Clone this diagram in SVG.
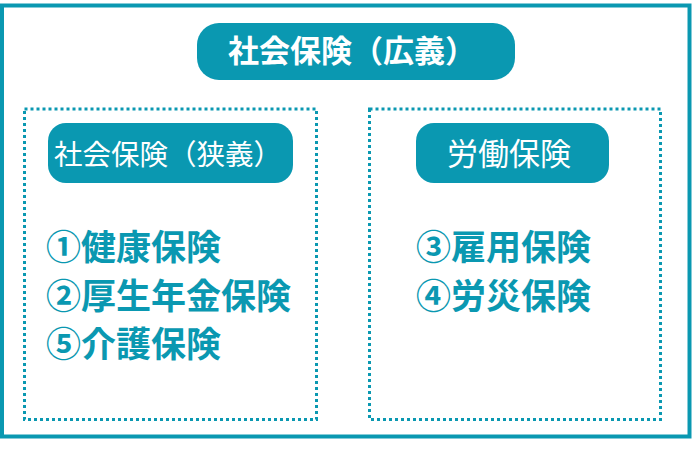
<svg xmlns="http://www.w3.org/2000/svg" width="695" height="460" viewBox="0 0 695 460">
<style>
.pill{fill:#0a98b1}
.pt{fill:#fff;font-family:"Noto Sans CJK JP","Noto Sans",sans-serif;text-anchor:middle}
.dot{fill:none;stroke:#0a98b1;stroke-width:3;stroke-dasharray:3 3}
.item{fill:#0a98b1;font-family:"Noto Sans CJK JP","Noto Sans",sans-serif;font-weight:700;font-size:35px}
</style>
<rect width="695" height="460" fill="#fff"/>
<rect id="outer" x="2" y="5.5" width="687.5" height="431" fill="none" stroke="#0a98b1" stroke-width="4"/>
<g id="broad">
<rect class="pill" x="197" y="23" width="318" height="57" rx="22"/>
<text class="pt" x="352" y="62" font-size="31" font-weight="700">社会保険（広義）</text>
</g>
<g id="narrow">
<rect class="dot" x="24.5" y="109" width="292" height="310.5"/>
<rect class="pill" x="48" y="123" width="245" height="60" rx="18"/>
<text class="pt" x="168" y="165" font-size="28.5">社会保険（狭義）</text>
<text class="item" x="46" y="260">①健康保険</text>
<text class="item" x="46" y="309">②厚生年金保険</text>
<text class="item" x="46" y="357">⑤介護保険</text>
</g>
<g id="labor">
<rect class="dot" x="369.5" y="109" width="291" height="310.5"/>
<rect class="pill" x="416" y="123" width="193" height="60" rx="18"/>
<text class="pt" x="509" y="165" font-size="31">労働保険</text>
<text class="item" x="416" y="260">③雇用保険</text>
<text class="item" x="416" y="309">④労災保険</text>
</g>
<g id="connectors"></g>
</svg>
